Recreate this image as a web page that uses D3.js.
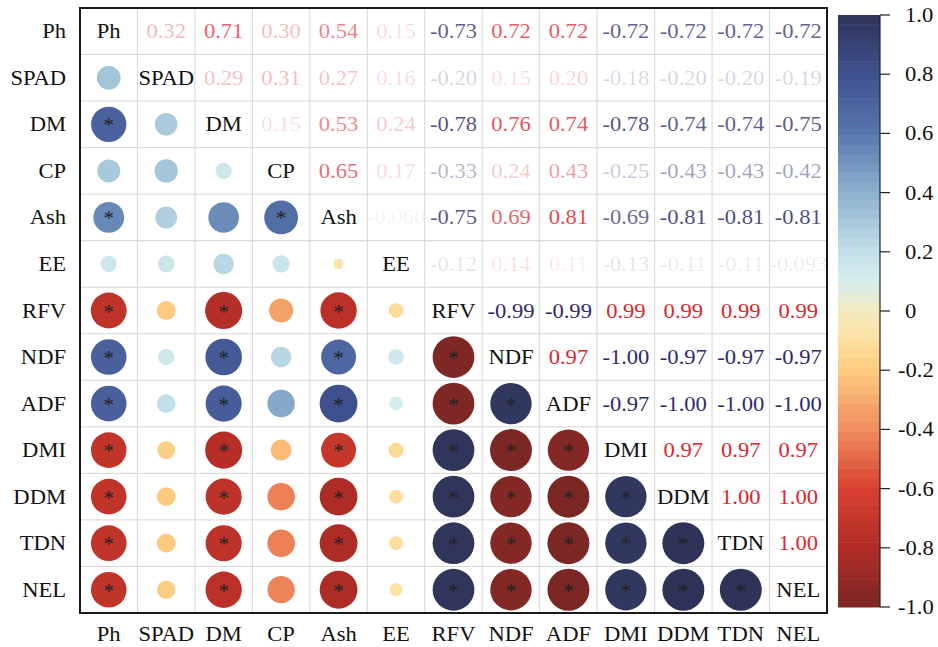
<!DOCTYPE html>
<html>
<head>
<meta charset="utf-8">
<script src="https://cdn.jsdelivr.net/npm/d3@7"></script>
<style>
  body { margin: 0; background: #fff; }
  text { font-family: "Liberation Serif", "Times New Roman", serif; }
</style>
</head>
<body>
<div id="svgContainer"></div>
<script>
// variable names (rows / columns of the matrix)
const variables = ["Ph", "SPAD", "DM", "CP", "Ash", "EE", "RFV", "NDF", "ADF", "DMI", "DDM", "TDN", "NEL"];

// upper triangle correlations, one array per row (values right of the diagonal)
const rPh   = [0.32, 0.71, 0.30, 0.54, 0.15, -0.73, 0.72, 0.72, -0.72, -0.72, -0.72, -0.72];
const rSpad = [0.29, 0.31, 0.27, 0.16, -0.20, 0.15, 0.20, -0.18, -0.20, -0.20, -0.19];
const rDm   = [0.15, 0.53, 0.24, -0.78, 0.76, 0.74, -0.78, -0.74, -0.74, -0.75];
const rCp   = [0.65, 0.17, -0.33, 0.24, 0.43, -0.25, -0.43, -0.43, -0.42];
const rAsh  = [-0.060, -0.75, 0.69, 0.81, -0.69, -0.81, -0.81, -0.81];
const rEe   = [-0.12, 0.14, 0.11, -0.13, -0.11, -0.11, -0.093];
const rRfv  = [-0.99, -0.99, 0.99, 0.99, 0.99, 0.99];
const rNdf  = [0.97, -1.00, -0.97, -0.97, -0.97];
const rAdf  = [-0.97, -1.00, -1.00, -1.00];
const rDmi  = [0.97, 0.97, 0.97];
const rDdm  = [1.00, 1.00];
const rTdn  = [1.00];
const upperRows = [rPh, rSpad, rDm, rCp, rAsh, rEe, rRfv, rNdf, rAdf, rDmi, rDdm, rTdn];

// significance: |r| above this critical value gets a "*"
const rCritical = 0.535;

// colorbar ticks
const cbarTicks = [1.0, 0.8, 0.6, 0.4, 0.2, 0, -0.2, -0.4, -0.6, -0.8, -1.0];

// colormap stops (value -> colour)
const cmapValues = [-1, -0.8, -0.6, -0.4, -0.2, -0.1, 0, 0.1, 0.2, 0.4, 0.6, 0.8, 1];
const cmapColors = ["#7b2724", "#b12c26", "#d8402f", "#f08c5e", "#fdca7e", "#fde0a0", "#f3eabd",
                    "#d8eeee", "#c3dfe9", "#8db2ce", "#5877ae", "#3f5190", "#2f3358"];

const W = 938, H = 647;
const fontSize = 21.5;
const stretch = 1.05; // glyphs in the picture are a bit wider than plain Times

// build cell list from the arrays
let cells = [];
upperRows.forEach((row, i) => {
    row.forEach((v, k) => {
        const j = i + 1 + k;
        cells.push({ row: variables[i], col: variables[j], r: v }); // upper: text
        cells.push({ row: variables[j], col: variables[i], r: v, lower: true }); // lower: circle
    });
});

var x = d3.scaleBand().domain(variables).range([80, 827]);
var y = d3.scaleBand().domain(variables).range([8, 613]);
var color = d3.scaleLinear().domain(cmapValues).range(cmapColors).interpolate(d3.interpolateRgb);
var rScale = d3.scaleSqrt().domain([0, 1]).range([0, 21]);
var yCbar = d3.scaleLinear().domain([-1, 1]).range([607, 15]);

const fmt = (v) => Math.abs(v) < 0.1 ? v.toPrecision(2) : v.toFixed(2);

let svg = d3.select("#svgContainer")
    .append("svg")
    .attr("width", W)
    .attr("height", H);

// helper for horizontally stretched text
function addText(g, str, tx, ty, anchor) {
    return g.append("text")
        .attr("transform", `translate(${tx},${ty}) scale(${stretch},1)`)
        .attr("text-anchor", anchor)
        .attr("font-size", fontSize)
        .text(str);
}

// grid
const grid = svg.append("g");
variables.forEach((v, i) => {
    if (i == 0) return;
    grid.append("line")
        .attr("x1", x(v)).attr("x2", x(v))
        .attr("y1", 8).attr("y2", 613)
        .attr("stroke", "#d6d6d6").attr("stroke-width", 1);
    grid.append("line")
        .attr("x1", 80).attr("x2", 827)
        .attr("y1", y(v)).attr("y2", y(v))
        .attr("stroke", "#d6d6d6").attr("stroke-width", 1);
});

const cx = (v) => x(v) + x.bandwidth() / 2;
const cy = (v) => y(v) + y.bandwidth() / 2;

// lower triangle circles
svg.append("g").selectAll("circle")
    .data(cells.filter((d) => d.lower))
    .join("circle")
    .attr("cx", (d) => cx(d.col))
    .attr("cy", (d) => cy(d.row))
    .attr("r", (d) => rScale(Math.abs(d.r)))
    .attr("fill", (d) => color(d.r));

// significance stars
const stars = svg.append("g");
cells.filter((d) => d.lower && Math.abs(d.r) > rCritical).forEach((d) => {
    stars.append("text")
        .attr("x", cx(d.col))
        .attr("y", cy(d.row) + 8)
        .attr("text-anchor", "middle")
        .attr("font-size", 21)
        .attr("fill", "#222")
        .text("*");
});

// upper triangle numbers (red positive, navy negative, fading with |r|)
const nums = svg.append("g");
cells.filter((d) => !d.lower).forEach((d) => {
    addText(nums, fmt(d.r), cx(d.col), cy(d.row) + 7, "middle")
        .attr("fill", d.r > 0 ? "#e0252d" : "#2f2b6e")
        .attr("fill-opacity", Math.min(1, Math.abs(d.r) * 1.05));
});

// diagonal labels
const diag = svg.append("g");
variables.forEach((v) => {
    addText(diag, v, cx(v), cy(v) + 7, "middle").attr("fill", "#111");
});

// left labels
const left = svg.append("g");
variables.forEach((v) => {
    addText(left, v, 66, cy(v) + 7, "end").attr("fill", "#111");
});

// bottom labels
const bottom = svg.append("g");
variables.forEach((v) => {
    addText(bottom, v, cx(v), 641, "middle").attr("fill", "#111");
});

// frame
svg.append("rect")
    .attr("x", 80).attr("y", 8)
    .attr("width", 747).attr("height", 605)
    .attr("fill", "none")
    .attr("stroke", "#1a1a1a")
    .attr("stroke-width", 2);

/****** colorbar ******/
const nBands = 64;
const cbar = svg.append("g");
d3.range(nBands).forEach((k) => {
    const v0 = -1 + (2 * k) / nBands, v1 = -1 + (2 * (k + 1)) / nBands;
    cbar.append("rect")
        .attr("x", 838)
        .attr("y", yCbar(v1))
        .attr("width", 42)
        .attr("height", yCbar(v0) - yCbar(v1) + 0.5)
        .attr("fill", color((v0 + v1) / 2));
});

cbar.append("line")
    .attr("x1", 880).attr("x2", 880)
    .attr("y1", yCbar(1)).attr("y2", yCbar(-1))
    .attr("stroke", "#222").attr("stroke-width", 1.2);

cbarTicks.forEach((t) => {
    cbar.append("line")
        .attr("x1", 880).attr("x2", 890)
        .attr("y1", yCbar(t)).attr("y2", yCbar(t))
        .attr("stroke", "#222").attr("stroke-width", 1.2);
    const label = t == 0 ? "0" : t.toFixed(1);
    addText(cbar, label, t < 0 ? 898 : 905, yCbar(t) + 7, "start").attr("fill", "#111");
});
</script>
</body>
</html>
